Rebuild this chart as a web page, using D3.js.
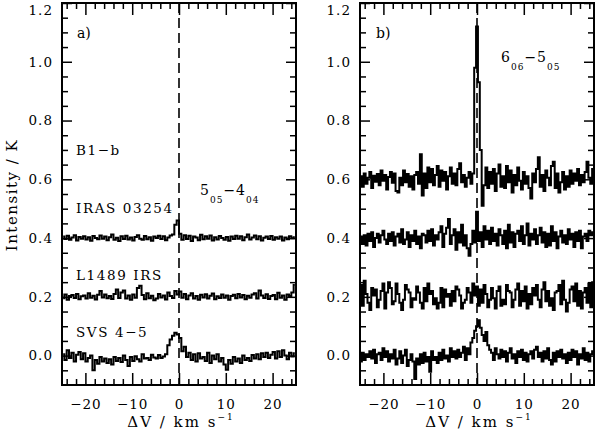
<!DOCTYPE html>
<html>
<head>
<meta charset="utf-8">
<script src="https://cdn.jsdelivr.net/npm/d3@7"></script>
<style>
  body { margin: 0; background: #fff; }
  svg { display: block; }
  text { font-family: "DejaVu Serif", serif; fill: #000; }
</style>
</head>
<body>
<div id="chart"></div>
<script>
// ---- data (intensities in mK above each spectrum's baseline offset) ----
var xMajor = [-20, -10, 0, 10, 20];
var yMajor = [0.0, 0.2, 0.4, 0.6, 0.8, 1.0, 1.2];

// panel a: 5(05)-4(04), channels of 0.5 km/s starting at -24.75
var chanA = { start: -24.75, step: 0.5 };
var namesA = ["IRAS 03254", "L1489 IRS", "SVS 4\u22125"];
var offsetsA = [0.4, 0.2, 0.0];
var irasA = [
  5,-3,8,-6,2,10,-8,4,-2,6,
  -5,3,-9,7,0,-4,9,-2,5,-7,
  3,12,-6,1,-10,6,-3,8,-5,2,
  -8,4,10,-2,-6,7,-4,3,-9,5,
  0,8,-3,6,-7,2,9,12,45,60,
  15,-6,10,-3,8,-10,5,2,-7,11,
  -4,6,-2,9,-8,3,-5,7,0,-6,
  4,-9,5,-3,8,-2,6,-7,3,12,
  -5,2,9,-4,6,-8,1,5,-3,7,
  -6,3,-2,5,-8,2,-4,6,-1,3
];
var l1489A = [
  -5,8,-10,3,6,-4,10,-8,2,5,
  -6,12,-3,4,-9,7,20,-2,8,-5,
  3,-7,10,25,-4,15,22,-6,5,-10,
  8,-3,30,38,6,-8,12,-5,4,-12,
  -6,10,-2,5,-9,15,3,-4,20,8,
  18,-3,10,-8,5,12,-6,3,-10,7,
  -2,9,-6,4,11,-8,2,-4,8,-3,
  5,-10,3,7,-5,10,-2,6,-8,4,
  -3,8,12,-6,22,5,-4,9,-7,3,
  6,-8,14,-3,5,-10,8,3,15,40
];
var svsA = [
  5,-15,18,-8,10,-20,3,12,-12,8,
  -20,-8,0,-50,-15,-28,-5,-20,-10,-25,
  -12,-30,-5,-18,-8,-22,0,-15,-35,-5,
  -18,-2,-12,-20,5,-10,-8,-15,3,-6,
  -10,2,-8,-3,5,35,55,68,78,72,
  60,15,30,-5,10,-15,5,-20,8,-10,
  -5,-18,10,-25,0,-12,5,-20,-8,-30,
  -48,-15,-28,-5,-20,-10,-25,0,-15,-8,
  -18,2,-10,5,-12,8,-5,10,-8,3,
  12,-10,15,-5,18,0,-12,10,-3,8
];

// panel b: 6(06)-5(05), channels of 0.4 km/s starting at -24.8
var chanB = { start: -24.8, step: 0.4 };
var offsetsB = [0.6, 0.4, 0.2, 0.0];
var b1bB = [
  10,-25,20,-15,5,25,-30,12,-8,18,
  -20,30,-5,15,-35,8,25,-12,20,-40,
  -45,5,-20,30,-10,18,-25,10,-35,15,
  25,-15,85,-55,20,-30,40,-10,35,-20,
  15,45,-25,30,-5,25,-35,10,40,-15,
  20,-20,35,55,-10,15,-25,5,25,-15,
  20,380,520,330,100,-90,-20,40,-30,25,
  -15,35,-40,20,50,-25,10,-30,45,-10,
  30,-45,15,-20,40,-5,-35,25,-15,10,
  -30,-65,20,-10,35,75,-25,15,-40,30,
  5,-20,45,60,-30,20,-45,-10,25,-35,
  10,-25,30,-15,20,-5,35,-20,15,-10,
  25,60,5,-15,35
];
var irasB = [
  5,-20,10,-25,15,-10,20,-30,0,15,
  -15,10,25,-5,-20,15,-10,20,-25,5,
  15,-15,30,-20,-5,20,-30,10,-10,25,
  -20,5,-35,15,10,-15,25,-10,30,-25,
  10,-5,20,40,-30,15,35,65,-20,10,
  30,-40,20,-15,45,-25,10,-35,-60,-20,
  25,-15,90,-10,20,-30,40,-5,25,-20,
  35,-10,15,-25,30,10,-20,25,-35,45,
  -15,20,-30,15,25,-10,40,-20,10,50,
  -25,15,-5,30,-20,10,35,-15,20,-30,
  15,-25,40,-10,20,-35,5,25,-15,10,
  -20,30,-5,15,-30,20,-10,25,-35,5,
  15,-10,25,10,20
];
var l1489B = [
  40,-30,55,10,-20,-45,30,5,25,-35,
  -10,20,45,-40,15,50,30,-25,-15,45,
  10,-20,-45,-10,40,25,15,-35,-5,-10,
  35,15,-20,-40,30,-15,45,10,20,-25,
  -5,-40,-20,30,-35,25,0,10,-30,20,
  -15,35,25,5,-40,-20,-10,30,15,-20,
  45,5,35,-30,25,-20,40,10,-35,-10,
  30,-5,-40,20,35,-30,-10,-25,40,20,
  15,-35,-10,25,45,-30,20,-15,35,-40,
  10,-25,30,5,40,-10,-35,25,50,-15,
  20,-30,-5,-45,15,20,40,-25,55,-10,
  -50,-20,25,35,-15,45,-30,20,-40,15,
  30,-20,45,-35,50
];
var svsB = [
  -20,10,-15,5,-5,15,-10,20,-25,5,
  10,-15,25,-5,15,-20,5,-10,20,-30,
  -10,15,-25,0,20,-35,-15,5,-20,-80,
  -10,-30,5,-25,10,-20,-5,-55,15,-15,
  -5,-25,10,-15,20,-10,0,-20,25,-5,
  15,-10,20,-5,10,30,-15,25,5,45,
  60,85,100,120,95,70,50,80,35,20,
  10,-15,25,5,-10,20,-5,15,-20,10,
  25,-10,5,-25,15,-5,20,-15,10,-20,
  5,15,-10,20,30,-5,10,-20,15,-10,
  25,-15,-30,10,-20,15,-5,20,-10,5,
  -25,10,-15,20,-5,15,-30,5,-10,25,
  -15,10,-20,5,15
];

// ---- layout ----
var W = 598, H = 433;
var plotTop = 3, plotBottom = 385;

var svg = d3.select("#chart").append("svg")
    .attr("width", W)
    .attr("height", H);

function toPoints(vals, chan, offset) {
    return vals.map((d, i) => ({ v: chan.start + chan.step * i, t: offset + d / 1000 }));
}

function drawPanel(left, right, spectra, chan, offsets, tag) {
    var x = d3.scaleLinear().domain([-25, 25]).range([left, right]);
    var y = d3.scaleLinear().domain([-0.1, 1.2]).range([plotBottom, plotTop]);
    var xMinor = d3.range(-24, 25, 2).filter(v => v % 10 !== 0);
    var yMinor = d3.range(-1, 24).filter(k => k % 4 !== 0).map(k => k * 0.05);

    var clipId = "clip-" + tag;
    svg.append("clipPath").attr("id", clipId)
       .append("rect")
       .attr("x", left).attr("y", plotTop)
       .attr("width", right - left).attr("height", plotBottom - plotTop);

    // dashed zero-velocity line
    svg.append("line")
       .attr("x1", x(0)).attr("x2", x(0))
       .attr("y1", plotTop).attr("y2", plotBottom)
       .attr("stroke", "#000")
       .attr("stroke-width", 1.6)
       .attr("stroke-dasharray", "10,5");

    // spectra
    var line = d3.line()
        .x(d => x(d.v))
        .y(d => y(d.t))
        .curve(d3.curveStep);
    spectra.forEach((s, k) => {
        svg.append("path")
           .datum(toPoints(s, chan, offsets[k]))
           .attr("clip-path", `url(#${clipId})`)
           .attr("fill", "none")
           .attr("stroke", "#000")
           .attr("stroke-width", 2)
           .attr("d", line);
    });

    // ticks on all four sides (pointing inward)
    function axisPair(axisFn, pos, isX, minor, majLen, minLen, labels, pad) {
        var sc = isX ? x : y;
        var fmt = labels ? (isX ? (d => String(d).replace("-", "\u2212")) : d3.format(".1f")) : "";
        svg.append("g").attr("class", "ax").attr("transform", pos)
            .call(axisFn(sc)
                .tickValues(isX ? xMajor : yMajor)
                .tickSize(-majLen)
                .tickPadding(pad)
                .tickFormat(fmt));
        svg.append("g").attr("class", "ax").attr("transform", pos)
            .call(axisFn(sc)
                .tickValues(minor)
                .tickSize(-minLen)
                .tickFormat(""));
    }
    axisPair(d3.axisBottom, `translate(0,${plotBottom})`, true, xMinor, 12, 6, true, 14);
    axisPair(d3.axisTop, `translate(0,${plotTop})`, true, xMinor, 12, 6, false, 0);
    axisPair(d3.axisLeft, `translate(${left},0)`, false, yMinor, 10, 6, true, 9);
    axisPair(d3.axisRight, `translate(${right},0)`, false, yMinor, 10, 6, false, 0);

    // frame
    svg.append("rect")
       .attr("x", left).attr("y", plotTop)
       .attr("width", right - left).attr("height", plotBottom - plotTop)
       .attr("fill", "none")
       .attr("stroke", "#000")
       .attr("stroke-width", 2);

    // x title
    var xt = svg.append("text")
       .attr("x", (left + right) / 2 + 2)
       .attr("y", 427)
       .attr("text-anchor", "middle")
       .attr("font-size", 15)
       .style("letter-spacing", "2px");
    xt.append("tspan").text("\u0394V / km s");
    xt.append("tspan").attr("font-size", 9).attr("dy", -7).text("\u22121");
}

drawPanel(62, 296, [irasA, l1489A, svsA], chanA, offsetsA, "a");
drawPanel(360, 594, [b1bB, irasB, l1489B, svsB], chanB, offsetsB, "b");

svg.selectAll(".domain").remove();
svg.selectAll(".tick line").attr("stroke", "#000").attr("stroke-width", 1.5);
svg.selectAll(".tick text")
   .attr("font-family", "DejaVu Serif, serif")
   .attr("font-size", 13.5)
   .style("letter-spacing", "1px")
   .attr("fill", "#000");
// top label sits just inside the window, as in the original
svg.selectAll(".tick text").filter(d => d === 1.2).attr("dy", "0.85em");

// y title
svg.append("text")
   .attr("transform", "translate(17,195) rotate(-90)")
   .attr("text-anchor", "middle")
   .attr("font-size", 15)
   .style("letter-spacing", "1.5px")
   .text("Intensity / K");

// panel tags
svg.append("text").attr("x", 77).attr("y", 38).attr("font-size", 14).text("a)");
svg.append("text").attr("x", 376).attr("y", 38).attr("font-size", 14).text("b)");

// source names (panel a)
var nameRows = [{ t: "B1\u2212b", y: 155 }, { t: namesA[0], y: 213 }, { t: namesA[1], y: 280 }, { t: namesA[2], y: 337 }];
svg.selectAll(".src")
   .data(nameRows)
   .enter().append("text")
   .attr("class", "src")
   .attr("x", 76)
   .attr("y", d => d.y)
   .attr("font-size", 13.5)
   .style("letter-spacing", "1.6px")
   .text(d => d.t);

// transition labels
function transition(xp, yp, a, sa, b, sb) {
    var t = svg.append("text").attr("x", xp).attr("y", yp).attr("font-size", 14)
        .style("letter-spacing", "1px");
    t.append("tspan").text(a);
    t.append("tspan").attr("font-size", 9).attr("dy", 8).text(sa);
    t.append("tspan").attr("dy", -8).text("\u2212" + b);
    t.append("tspan").attr("font-size", 9).attr("dy", 8).text(sb);
}
transition(200, 195, "5", "05", "4", "04");
transition(501, 62, "6", "06", "5", "05");
</script>
</body>
</html>
